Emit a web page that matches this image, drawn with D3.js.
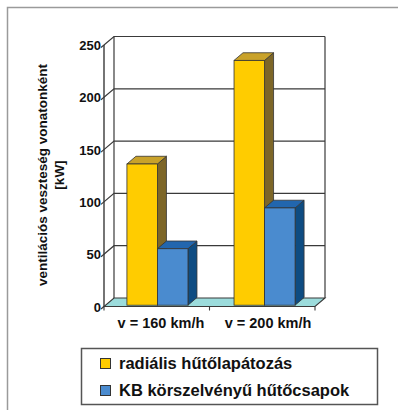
<!DOCTYPE html>
<html>
<head>
<meta charset="utf-8">
<script src="https://cdn.jsdelivr.net/npm/d3@7"></script>
<style>
  html, body { margin: 0; padding: 0; background: #fff; }
  svg { display: block; font-family: "Liberation Sans", Arial, sans-serif; }
</style>
</head>
<body>
<svg id="chart" width="398" height="410"></svg>
<script>
// Ventilation loss per train, two cooling designs at two speeds
const categories = ["v = 160 km/h", "v = 200 km/h"];
const seriesNames = ["radiális hűtőlapátozás", "KB körszelvényű hűtőcsapok"];
const radialis = [135, 234];
const kbCsapok = [54, 93];
const yTicks = [0, 50, 100, 150, 200, 250];

const seriesValues = [radialis, kbCsapok];

const palette = [
  { front: "#FFCC00", top: "#C9A22A", side: "#7D6628" },
  { front: "#4A8BCF", top: "#2266AE", side: "#0E4C82" }
];

const svg = d3.select("#chart");

// outer frame
svg.append("rect")
  .attr("x", 7.5).attr("y", 7.5).attr("width", 420).attr("height", 420)
  .attr("fill", "none").attr("stroke", "#9a9a9a").attr("stroke-width", 1.5);

// front plane geometry and depth offset of the 3D box
const x0 = 104, x1 = 315;
const DX = 10, DY = -8.5;
const y = d3.scaleLinear().domain([0, 250]).range([306.5, 45]);
const xBand = d3.scaleBand().domain(categories).range([x0, x1]).paddingInner(0.43).paddingOuter(0.2);
const xSub = d3.scaleBand().domain(seriesNames).range([0, xBand.bandwidth()]);

const lineColor = "#3a3a3a";
const g = svg.append("g");

// back wall vertical edges
g.append("line").attr("x1", x0 + DX).attr("x2", x0 + DX)
  .attr("y1", y(0) + DY).attr("y2", y(250) + DY)
  .attr("stroke", lineColor).attr("stroke-width", 1.2);
g.append("line").attr("x1", x1 + DX).attr("x2", x1 + DX)
  .attr("y1", y(0) + DY).attr("y2", y(250) + DY)
  .attr("stroke", lineColor).attr("stroke-width", 1.2);

// gridlines across side wall and back wall, with outward tick
yTicks.forEach(v => {
  if (v === 0) return;
  g.append("path")
    .attr("d", `M${x0 - 3},${y(v) + 2.5} L${x0 + DX},${y(v) + DY} L${x1 + DX},${y(v) + DY}`)
    .attr("fill", "none").attr("stroke", lineColor).attr("stroke-width", 1.2);
});

// floor
g.append("path")
  .attr("d", `M${x0},${y(0)} L${x1},${y(0)} L${x1 + DX},${y(0) + DY} L${x0 + DX},${y(0) + DY} Z`)
  .attr("fill", "#9CDCDC").attr("stroke", lineColor).attr("stroke-width", 1.1);
g.append("path")
  .attr("d", `M${x0 - 3},${y(0) + 2.5} L${x0},${y(0)}`)
  .attr("stroke", lineColor).attr("stroke-width", 1.2);

// front value axis
g.append("line").attr("x1", x0).attr("x2", x0)
  .attr("y1", y(0)).attr("y2", y(250))
  .attr("stroke", lineColor).attr("stroke-width", 1.4);

// category ticks under the floor
[x0, (x0 + x1) / 2, x1].forEach(xt => {
  g.append("line").attr("x1", xt).attr("x2", xt)
    .attr("y1", y(0)).attr("y2", y(0) + 4)
    .attr("stroke", lineColor).attr("stroke-width", 1.1);
});

// 3D bars, drawn left to right so later bars overlap earlier side faces
const fx = 1.5, fy = -1.3;   // bar front face offset into depth
const bx = 9, by = -7.7;     // bar depth
categories.forEach((cat, ci) => {
  seriesNames.forEach((s, si) => {
    const v = seriesValues[si][ci];
    const c = palette[si];
    const L = xBand(cat) + xSub(s) + fx;
    const R = L + xSub.bandwidth();
    const T = y(v) + fy;
    const B = y(0) + fy;
    const bar = g.append("g");
    bar.append("path")
      .attr("d", `M${R},${B} L${R + bx},${B + by} L${R + bx},${T + by} L${R},${T} Z`)
      .attr("fill", c.side).attr("stroke", "#333").attr("stroke-width", 0.8);
    bar.append("path")
      .attr("d", `M${L},${T} L${R},${T} L${R + bx},${T + by} L${L + bx},${T + by} Z`)
      .attr("fill", c.top).attr("stroke", "#333").attr("stroke-width", 0.8);
    bar.append("rect")
      .attr("x", L).attr("y", T).attr("width", R - L).attr("height", B - T)
      .attr("fill", c.front).attr("stroke", "#333").attr("stroke-width", 0.8);
  });
});

// value tick labels
svg.append("g").selectAll("text").data(yTicks).join("text")
  .attr("x", x0 - 3).attr("y", d => y(d) + 5)
  .attr("text-anchor", "end")
  .attr("font-size", 13).attr("font-weight", "bold").attr("fill", "#111")
  .text(d => d);

// category labels
svg.append("g").selectAll("text").data(categories).join("text")
  .attr("x", d => xBand(d) + xBand.bandwidth() / 2 + 5)
  .attr("y", 328)
  .attr("text-anchor", "middle")
  .attr("font-size", 14.5).attr("font-weight", "bold").attr("fill", "#111")
  .text(d => d);

// axis title
const title = svg.append("text")
  .attr("transform", "translate(47,175) rotate(-90)")
  .attr("text-anchor", "middle")
  .attr("font-size", 13.5).attr("font-weight", "bold").attr("fill", "#111");
title.append("tspan").attr("x", 0).attr("y", 0).text("ventilációs veszteség vonatonként");
title.append("tspan").attr("x", 0).attr("y", 17).text("[kW]");

// legend
const legend = svg.append("g");
legend.append("rect")
  .attr("x", 81.5).attr("y", 348.5).attr("width", 296).attr("height", 56)
  .attr("fill", "#fff").attr("stroke", "#555").attr("stroke-width", 1.5);
seriesNames.forEach((s, i) => {
  const ly = 363 + i * 27;
  legend.append("rect")
    .attr("x", 100.5).attr("y", ly - 4.5).attr("width", 10).attr("height", 10)
    .attr("fill", palette[i].front).attr("stroke", "#333").attr("stroke-width", 1);
  legend.append("text")
    .attr("x", 119).attr("y", ly + 6)
    .attr("font-size", 16.5).attr("font-weight", "bold").attr("fill", "#111")
    .text(s);
});
</script>
</body>
</html>
